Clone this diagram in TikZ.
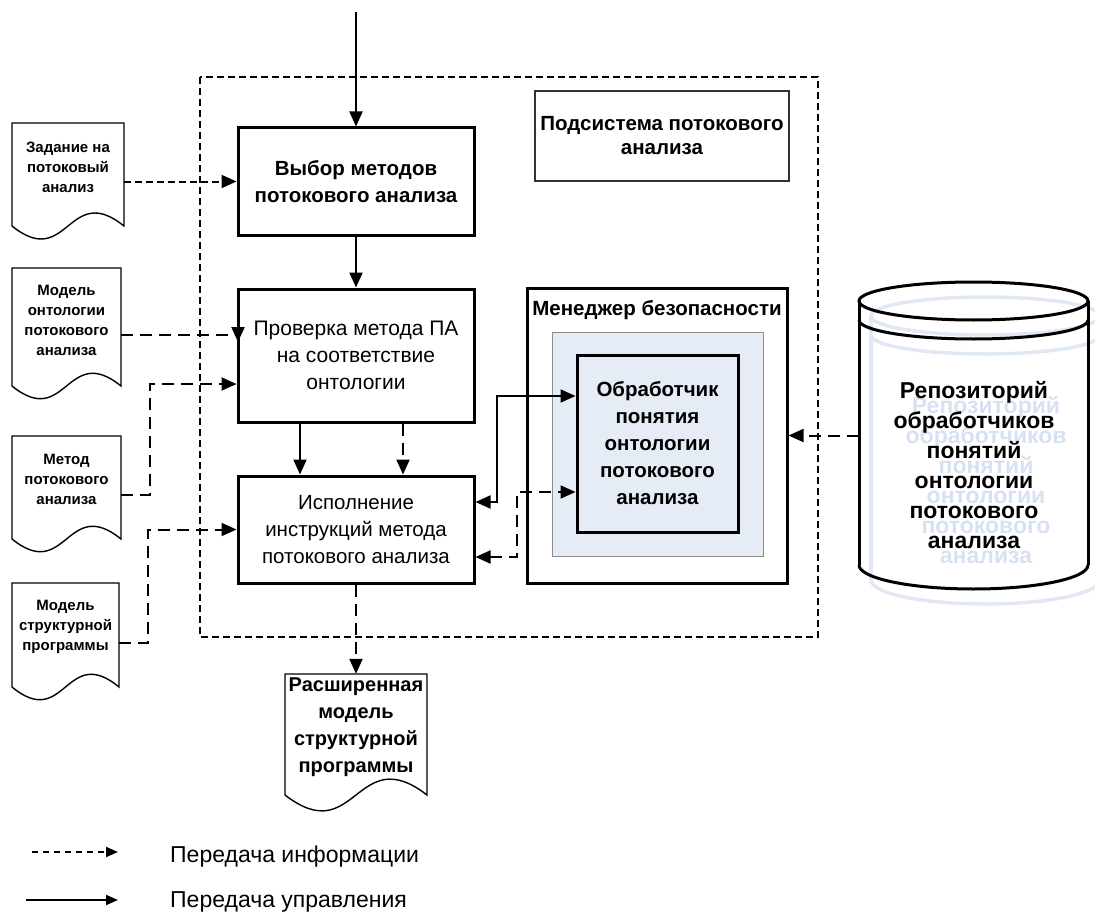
\documentclass[tikz,border=0pt]{standalone}
\usepackage{fontspec}
\setmainfont{Liberation Sans}
\usetikzlibrary{arrows.meta}
\definecolor{lightfill}{RGB}{230,236,246}
\definecolor{ghostline}{RGB}{224,232,244}
\definecolor{ghosttext}{RGB}{214,225,241}
\tikzset{
  box/.style={draw, line width=3pt, inner sep=0pt, align=center},
  tip/.style={-{Triangle[length=15pt,width=13pt]}},
  ctrl/.style={line width=2pt, tip},
  infos/.style={line width=2pt, dash pattern=on 7pt off 4pt, tip},
  infol/.style={line width=2pt, dash pattern=on 12pt off 7pt, tip},
  docline/.style={line width=1.4pt},
  doctext/.style={inner sep=0pt, align=center, font=\bfseries\fontsize{15}{20}\selectfont},
  bigbold/.style={font=\bfseries\fontsize{20.5}{26.5}\selectfont},
  bigreg/.style={font=\fontsize{21}{27}\selectfont},
  cylline/.style={line width=3pt},
  legtext/.style={anchor=west, inner sep=0pt, font=\fontsize{23}{27}\selectfont},
}
\begin{document}
\begin{tikzpicture}[x=1pt,y=-1pt]
\useasboundingbox (0,0) rectangle (1095,923);
\clip (0,0) rectangle (1095,923);

% outer dashed subsystem border
\draw[line width=2pt, dash pattern=on 7pt off 4pt] (200,77) rectangle (818,637);

% subsystem title box
\node[draw=black!80, line width=1.2pt, minimum width=254, minimum height=90, align=center, inner sep=0pt, font=\bfseries\fontsize{20.5}{24}\selectfont] (sub) at (662,136) {Подсистема потокового\\анализа};

% security manager
\node[box, minimum width=260, minimum height=295] (mgr) at (657,435.5) {};
\node[inner sep=0pt, font=\bfseries\fontsize{20.5}{24}\selectfont] (mgrtitle) at (657,310) {Менеджер безопасности};
\node[draw=black!45, line width=0.8pt, fill=lightfill, minimum width=211, minimum height=224, inner sep=0pt] (blue) at (657.5,444) {};
\node[box, font=\bfseries\fontsize{20.5}{27}\selectfont, minimum width=161, minimum height=177] (handler) at (657.5,443.5) {Обработчик\\понятия\\онтологии\\потокового\\анализа};

% main process boxes
\node[box, bigbold, minimum width=236, minimum height=107] (box1) at (356,181.5) {Выбор методов\\потокового анализа};
\node[box, bigreg, minimum width=236, minimum height=133] (box2) at (356,355.5) {Проверка метода ПА\\на соответствие\\онтологии};
\node[box, font=\fontsize{20.5}{27}\selectfont, minimum width=236, minimum height=107] (box3) at (356,529.5) {Исполнение\\инструкций метода\\потокового анализа};

% documents
\draw[docline] (12,123) -- (124,123) -- (124,226) .. controls (68,181) and (68,271) .. (12,226) -- cycle;
\node[doctext, minimum width=112] (d1) at (68,167) {Задание на\\потоковый\\анализ};

\draw[docline] (12,268) -- (121,268) -- (121,386) .. controls (66.5,342) and (66.5,430) .. (12,386) -- cycle;
\node[doctext, minimum width=109] (d2) at (66.5,320) {Модель\\онтологии\\потокового\\анализа};

\draw[docline] (12,436) -- (121,436) -- (121,539) .. controls (66.5,495) and (66.5,583) .. (12,539) -- cycle;
\node[doctext, minimum width=109] (d3) at (66.5,479) {Метод\\потокового\\анализа};

\draw[docline] (12,583) -- (119,583) -- (119,687) .. controls (65.5,643) and (65.5,731) .. (12,687) -- cycle;
\node[doctext, minimum width=107] (d4) at (65.5,627) {Модель\\структурной\\программы};

\draw[docline] (285,674) -- (427,674) -- (427,795) .. controls (356,740) and (356,850) .. (285,795) -- cycle;
\node[inner sep=0pt, align=center, font=\bfseries\fontsize{20}{27}\selectfont, minimum width=142, minimum height=106] (out) at (356,727) {Расширенная\\модель\\структурной\\программы};

% repository cylinder: ghost copy
\begin{scope}[shift={(12,15)}, draw=ghostline, line width=3.5pt]
  \draw (973.5,301) ellipse [x radius=114.5, y radius=19];
  \draw (1088,320) arc [start angle=0, end angle=180, x radius=114.5, y radius=19];
  \draw (859,301) -- (859,565);
  \draw (1088,301) -- (1088,565);
  \draw (1088,565) arc [start angle=0, end angle=180, x radius=114.5, y radius=24];
  \node[align=center, text=ghosttext, font=\bfseries\fontsize{23}{30}\selectfont] (cylghost) at (974,465.5) {Репозиторий\\обработчиков\\понятий\\онтологии\\потокового\\анализа};
\end{scope}
% repository cylinder
\node[minimum width=229, minimum height=307, inner sep=0pt] (cyl) at (973.5,435.5) {};
\draw[cylline] (973.5,301) ellipse [x radius=114.5, y radius=19];
\draw[cylline] (1088,320) arc [start angle=0, end angle=180, x radius=114.5, y radius=19];
\draw[cylline] (859,301) -- (859,565);
\draw[cylline] (1088,301) -- (1088,565);
\draw[cylline] (1088,565) arc [start angle=0, end angle=180, x radius=114.5, y radius=24];
\node[align=center, font=\bfseries\fontsize{23}{30}\selectfont] (cyltext) at (974,465.5) {Репозиторий\\обработчиков\\понятий\\онтологии\\потокового\\анализа};

% connectors
\coordinate (topin) at (356,12);
\draw[ctrl] (topin) -- (box1.north);
\draw[ctrl] (box1.south) -- (box2.north);
\draw[ctrl] ([xshift=-56pt]box2.south) -- ([xshift=-56pt]box3.north);
\draw[infol] ([xshift=47pt]box2.south) -- ([xshift=47pt]box3.north);
\draw[infol] (box3.south) -- (out.north);

\draw[infos] (d1.east |- box1.west) -- (box1.west);
\coordinate (c2) at (238,342);
\draw[infol] (d2.east |- 0,335) -| (c2);
\draw[infol] (d3.east |- 0,495) -- (150,495) |- ([yshift=-28.5pt]box2.west);
\draw[infol] (d4.east |- 0,643) -- (148,643) |- (box3.west);

\draw[line width=2pt, {Triangle[length=15pt,width=13pt]}-{Triangle[length=15pt,width=13pt]}] ([yshift=27.5pt]box3.east) -- (497,502) |- ([yshift=47.5pt]handler.west);
\draw[line width=2pt, dash pattern=on 12pt off 7pt, {Triangle[length=15pt,width=13pt]}-{Triangle[length=15pt,width=13pt]}] ([yshift=-27.5pt]box3.east) -- (517,557) |- ([yshift=-48.5pt]handler.west);

\draw[infol] (cyl.west |- mgr.east) -- (mgr.east);

% legend
\coordinate (l1a) at (32,852);
\coordinate (l1b) at (118,852);
\coordinate (l2a) at (26,900);
\coordinate (l2b) at (118,900);
\draw[line width=1.8pt, dash pattern=on 6pt off 5pt, -{Triangle[length=12pt,width=10pt]}] (l1a) -- (l1b);
\draw[line width=1.8pt, -{Triangle[length=12pt,width=10pt]}] (l2a) -- (l2b);
\node[legtext] (leg1) at (170,857) {Передача информации};
\node[legtext] (leg2) at (170,902) {Передача управления};
\end{tikzpicture}
\end{document}
